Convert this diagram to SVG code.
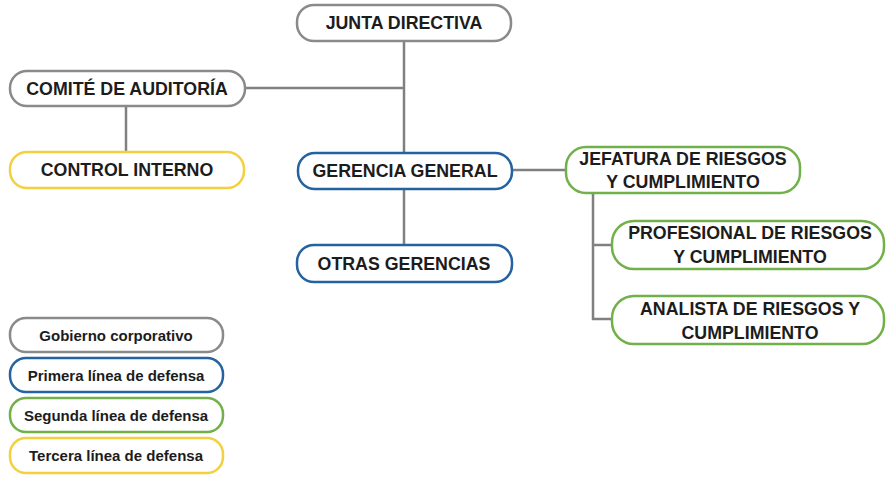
<svg xmlns="http://www.w3.org/2000/svg" width="886" height="478" viewBox="0 0 886 478">
<style>
.box{fill:#ffffff;stroke-width:2.5}
.g{stroke:#8a8a8a}
.b{stroke:#2563a0}
.gr{stroke:#72b04a}
.y{stroke:#f3d03e}
.t{font-family:"Liberation Sans",Arial,sans-serif;font-weight:bold;font-size:17.8px;fill:#1c1c1c;text-anchor:middle;dominant-baseline:central}
.lt{font-family:"Liberation Sans",Arial,sans-serif;font-weight:bold;font-size:15px;fill:#1c1c1c;text-anchor:middle;dominant-baseline:central}
.c{fill:none;stroke:#808080;stroke-width:2.5}
</style>
<rect width="886" height="478" fill="#ffffff"/>
<g id="connectors">
<path class="c" d="M404 41 V153"/>
<path class="c" d="M245 88 H404"/>
<path class="c" d="M126 106 V152"/>
<path class="c" d="M404 189 V245"/>
<path class="c" d="M512 170 H566"/>
<path class="c" d="M593 193 V319 H612"/>
<path class="c" d="M593 245 H612"/>
</g>
<g id="junta">
<rect class="box g" x="297" y="5" width="214" height="36" rx="17"/>
<text class="t" x="404" y="23">JUNTA DIRECTIVA</text>
</g>
<g id="comite">
<rect class="box g" x="10" y="71" width="235" height="35" rx="17"/>
<text class="t" x="127" y="89">COMITÉ DE AUDITORÍA</text>
</g>
<g id="control">
<rect class="box y" x="10" y="152" width="234" height="36" rx="17"/>
<text class="t" x="127" y="170">CONTROL INTERNO</text>
</g>
<g id="gerencia">
<rect class="box b" x="298" y="153" width="214" height="36" rx="17"/>
<text class="t" x="405" y="171">GERENCIA GENERAL</text>
</g>
<g id="otras">
<rect class="box b" x="297" y="245" width="215" height="37" rx="17"/>
<text class="t" x="404" y="264">OTRAS GERENCIAS</text>
</g>
<g id="jefatura">
<rect class="box gr" x="566" y="147" width="234" height="46" rx="20"/>
<text class="t" x="683" y="159">JEFATURA DE RIESGOS</text>
<text class="t" x="683" y="182">Y CUMPLIMIENTO</text>
</g>
<g id="profesional">
<rect class="box gr" x="612" y="221" width="272" height="48" rx="22"/>
<text class="t" x="750" y="233">PROFESIONAL DE RIESGOS</text>
<text class="t" x="750" y="257">Y CUMPLIMIENTO</text>
</g>
<g id="analista">
<rect class="box gr" x="612" y="296" width="272" height="48" rx="22"/>
<text class="t" x="750" y="309">ANALISTA DE RIESGOS Y</text>
<text class="t" x="750" y="333">CUMPLIMIENTO</text>
</g>
<g id="legend">
<rect class="box g" x="10" y="318" width="213" height="34" rx="16"/>
<text class="lt" x="116" y="335">Gobierno corporativo</text>
<rect class="box b" x="10" y="358" width="213" height="34" rx="16"/>
<text class="lt" x="116" y="375">Primera línea de defensa</text>
<rect class="box gr" x="10" y="398" width="213" height="34" rx="16"/>
<text class="lt" x="116" y="415">Segunda línea de defensa</text>
<rect class="box y" x="10" y="438" width="213" height="35" rx="16"/>
<text class="lt" x="116" y="455">Tercera línea de defensa</text>
</g>
</svg>
